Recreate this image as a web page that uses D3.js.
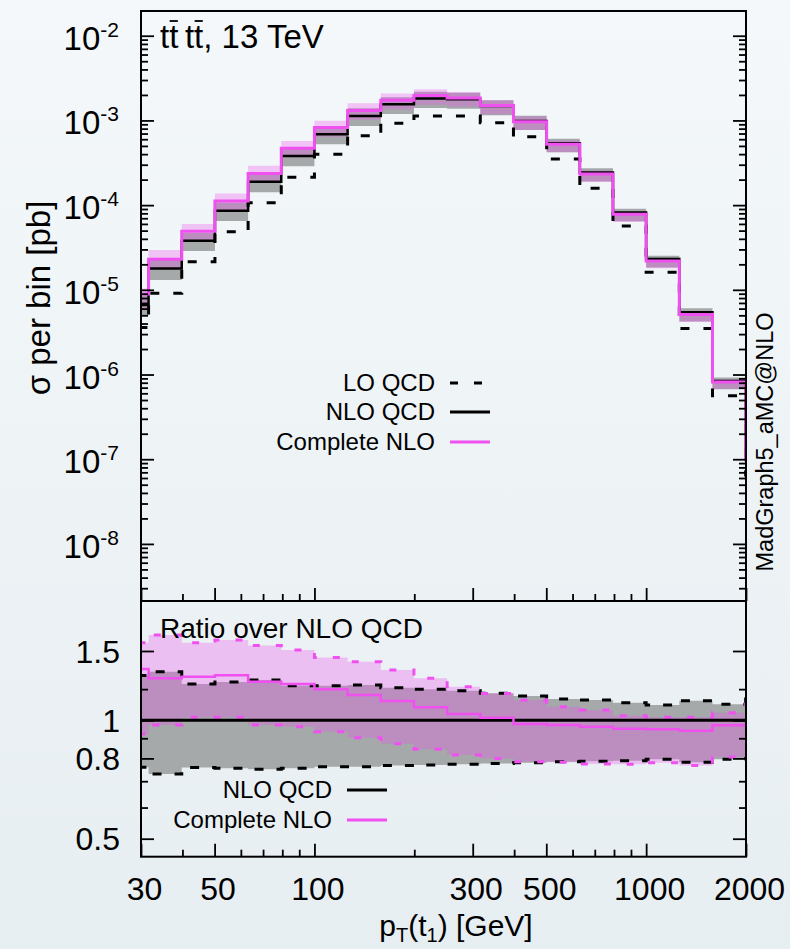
<!DOCTYPE html>
<html lang="en">
<head>
<meta charset="UTF-8">
<title>tttt pT(t1)</title>
<script src="https://cdn.jsdelivr.net/npm/d3@7"></script>
<style>
body {
	margin: 0;
	background: #eef3f5;
}
svg {
	display: block;
	font-family: "Liberation Sans", Arial, Helvetica, sans-serif;
}
</style>
</head>
<body>
<svg id="chart" width="790" height="949"></svg>
<script>

// bin edges [GeV], 10 bins per decade
const binEdges = [25.12, 31.62, 39.81, 50.12, 63.10, 79.43, 100, 125.9, 158.5, 199.5, 251.2,
	316.2, 398.1, 501.2, 631.0, 794.3, 1000, 1258.9, 1584.9, 1995.3, 2511.9];

// sigma per bin [pb]
const nloQCD = [6.6e-6, 1.79e-5, 3.8e-5, 8.6e-5, 1.89e-4, 3.8e-4, 6.86e-4, 1.13e-3, 1.55e-3, 1.82e-3,
	1.78e-3, 1.48e-3, 9.85e-4, 5.37e-4, 2.42e-4, 8.2e-5, 2.31e-5, 5.42e-6, 8.4e-7, 1.0e-7];
const loQCD = [3.6e-6, 9.1e-6, 2.15e-5, 4.85e-5, 1.07e-4, 2.13e-4, 3.98e-4, 6.6e-4, 9.25e-4, 1.13e-3,
	1.13e-3, 9.4e-4, 6.43e-4, 3.5e-4, 1.58e-4, 5.66e-5, 1.61e-5, 3.5e-6, 5.6e-7, 6.5e-8];

// ratios over NLO QCD
const nloUp = [1.30, 1.329, 1.237, 1.251, 1.266, 1.224, 1.224, 1.229, 1.21, 1.199,
	1.189, 1.171, 1.153, 1.133, 1.126, 1.108, 1.094, 1.121, 1.098, 1.18];
const nloDown = [0.76, 0.730, 0.758, 0.755, 0.751, 0.755, 0.762, 0.762, 0.767, 0.770,
	0.773, 0.777, 0.780, 0.785, 0.787, 0.789, 0.796, 0.782, 0.796, 0.80];
const cnloRatio = [1.35, 1.279, 1.291, 1.301, 1.253, 1.237, 1.199, 1.16, 1.119, 1.079,
	1.037, 1.015, 0.978, 0.973, 0.963, 0.952, 0.949, 0.941, 0.971, 0.98];
const cnloUp = [1.575, 1.647, 1.575, 1.60, 1.548, 1.509, 1.443, 1.409, 1.342, 1.279,
	1.217, 1.17, 1.126, 1.083, 1.062, 1.027, 1.018, 1.018, 1.045, 1.10];
const cnloDown = [0.923, 0.973, 1.018, 1.018, 0.973, 0.963, 0.935, 0.903, 0.871, 0.844,
	0.816, 0.80, 0.785, 0.782, 0.774, 0.773, 0.78, 0.767, 0.807, 0.80];

// ticks
const xTicks = [30, 50, 100, 300, 500, 1000, 2000];
const xMinor = [40, 60, 70, 80, 90, 200, 400, 600, 700, 800, 900];
const yExponents = [-2, -3, -4, -5, -6, -7, -8];
const ratioTicks = [0.5, 0.8, 1, 1.5];
const ratioMinor = [0.6, 0.7, 0.9, 1.2];

const magenta = "#f050f0";
const grayBand = "#a5a9aa";
const pinkBand = "rgba(240,80,240,0.31)";

const left = 141, right = 746, topY = 11, midY = 601, botY = 856.7;

const x = d3.scaleLog().domain([30, 2000]).range([left, right]);
const y = d3.scaleLog().domain([Math.pow(10, -8.674), Math.pow(10, -1.708)]).range([midY, topY]);
const yr = d3.scaleLog().domain([0.45, 2.01]).range([botY, midY]);

const svg = d3.select("#chart");
const defs = svg.append("defs");

const grad = defs.append("linearGradient").attr("id", "bg")
	.attr("x1", 0).attr("y1", 0).attr("x2", 0).attr("y2", 1);
grad.append("stop").attr("offset", "0%").attr("stop-color", "#f4f8fa");
grad.append("stop").attr("offset", "100%").attr("stop-color", "#e7eef1");

defs.append("clipPath").attr("id", "clipTop").append("rect")
	.attr("x", left).attr("y", topY).attr("width", right - left).attr("height", midY - topY);
defs.append("clipPath").attr("id", "clipBot").append("rect")
	.attr("x", left).attr("y", midY).attr("width", right - left).attr("height", botY - midY);

svg.append("rect").attr("width", 790).attr("height", 949).attr("fill", "url(#bg)");

// step helpers
function stepPoints(values) {
	const pts = values.map((v, i) => [binEdges[i], v]);
	pts.push([binEdges[values.length], values[values.length - 1]]);
	return pts;
}
function bandPoints(lows, highs) {
	const pts = lows.map((v, i) => ({e: binEdges[i], lo: v, hi: highs[i]}));
	pts.push({e: binEdges[lows.length], lo: lows[lows.length - 1], hi: highs[highs.length - 1]});
	return pts;
}

const scaled = (r) => r.map((v, i) => v * nloQCD[i]);
const ones = nloQCD.map(() => 1);

// ---------- upper panel ----------
const up = svg.append("g").attr("clip-path", "url(#clipTop)");

const areaTop = d3.area().curve(d3.curveStepAfter)
	.x(d => x(d.e)).y0(d => y(d.lo)).y1(d => y(d.hi));
const lineTop = d3.line().curve(d3.curveStepAfter)
	.x(d => x(d[0])).y(d => y(d[1]));

up.append("path").datum(bandPoints(scaled(nloDown), scaled(nloUp)))
	.attr("d", areaTop).attr("fill", grayBand);
up.append("path").datum(bandPoints(scaled(cnloDown), scaled(cnloUp)))
	.attr("d", areaTop).attr("fill", pinkBand);

up.append("path").datum(stepPoints(loQCD))
	.attr("d", lineTop).attr("fill", "none").attr("stroke", "#000")
	.attr("stroke-width", 3).attr("stroke-dasharray", "9,14");
up.append("path").datum(stepPoints(nloQCD))
	.attr("d", lineTop).attr("fill", "none").attr("stroke", "#000").attr("stroke-width", 2.5);
up.append("path").datum(stepPoints(scaled(cnloRatio)))
	.attr("d", lineTop).attr("fill", "none").attr("stroke", magenta).attr("stroke-width", 3);

// ---------- lower panel ----------
const lo = svg.append("g").attr("clip-path", "url(#clipBot)");

const areaBot = d3.area().curve(d3.curveStepAfter)
	.x(d => x(d.e)).y0(d => yr(d.lo)).y1(d => yr(d.hi));
const lineBot = d3.line().curve(d3.curveStepAfter)
	.x(d => x(d[0])).y(d => yr(d[1]));

lo.append("path").datum(bandPoints(nloDown, nloUp))
	.attr("d", areaBot).attr("fill", grayBand);
lo.append("path").datum(bandPoints(cnloDown, cnloUp))
	.attr("d", areaBot).attr("fill", pinkBand);

[nloUp, nloDown].forEach(arr => {
	lo.append("path").datum(stepPoints(arr))
		.attr("d", lineBot).attr("fill", "none").attr("stroke", "#000")
		.attr("stroke-width", 3).attr("stroke-dasharray", "9,13");
});
[cnloUp, cnloDown].forEach(arr => {
	lo.append("path").datum(stepPoints(arr))
		.attr("d", lineBot).attr("fill", "none").attr("stroke", magenta)
		.attr("stroke-width", 3).attr("stroke-dasharray", "7,16");
});
lo.append("path").datum(stepPoints(ones))
	.attr("d", lineBot).attr("fill", "none").attr("stroke", "#000").attr("stroke-width", 3);
lo.append("path").datum(stepPoints(cnloRatio))
	.attr("d", lineBot).attr("fill", "none").attr("stroke", magenta).attr("stroke-width", 2.5);

// ---------- axes (ticks pointing inward) ----------
function ticks(axis, g, size, values) {
	const a = g.append("g").call(axis.tickValues(values).tickSize(size).tickFormat(""));
	a.select(".domain").remove();
	a.selectAll("line").attr("stroke", "#000").attr("stroke-width", 1.8);
	return a;
}

const yMinor = y.ticks().filter(v => Math.abs(Math.log10(v) - Math.round(Math.log10(v))) > 1e-6);
const yMajor = yExponents.map(e => Math.pow(10, e));
const axes = svg.append("g");

ticks(d3.axisLeft(y), axes.append("g").attr("transform", `translate(${left},0)`), -13, yMajor);
ticks(d3.axisLeft(y), axes.append("g").attr("transform", `translate(${left},0)`), -7, yMinor);
ticks(d3.axisRight(y), axes.append("g").attr("transform", `translate(${right},0)`), -13, yMajor);
ticks(d3.axisRight(y), axes.append("g").attr("transform", `translate(${right},0)`), -7, yMinor);

ticks(d3.axisBottom(x), axes.append("g").attr("transform", `translate(0,${midY})`), -13, xTicks);
ticks(d3.axisBottom(x), axes.append("g").attr("transform", `translate(0,${midY})`), -7, xMinor);
ticks(d3.axisBottom(x), axes.append("g").attr("transform", `translate(0,${botY})`), -13, xTicks);
ticks(d3.axisBottom(x), axes.append("g").attr("transform", `translate(0,${botY})`), -7, xMinor);

ticks(d3.axisLeft(yr), axes.append("g").attr("transform", `translate(${left},0)`), -13, ratioTicks);
ticks(d3.axisLeft(yr), axes.append("g").attr("transform", `translate(${left},0)`), -7, ratioMinor);
ticks(d3.axisRight(yr), axes.append("g").attr("transform", `translate(${right},0)`), -13, ratioTicks);
ticks(d3.axisRight(yr), axes.append("g").attr("transform", `translate(${right},0)`), -7, ratioMinor);

// frames
[[topY, midY], [midY, botY]].forEach(([a, b]) => {
	svg.append("rect").attr("x", left).attr("y", a).attr("width", right - left).attr("height", b - a)
		.attr("fill", "none").attr("stroke", "#000").attr("stroke-width", 2);
});

// ---------- tick labels ----------
yExponents.forEach(e => {
	const t = svg.append("text").attr("x", 119).attr("y", y(Math.pow(10, e)) + 14)
		.attr("text-anchor", "end").attr("font-size", 33).text("10");
	t.append("tspan").attr("dy", -13).attr("font-size", 21).text(e);
});

ratioTicks.forEach(v => {
	svg.append("text").attr("x", 120).attr("y", yr(v) + 11.5)
		.attr("text-anchor", "end").attr("font-size", 32).text(v);
});

xTicks.forEach(v => {
	svg.append("text").attr("x", x(v) + 3.5).attr("y", 900)
		.attr("text-anchor", "middle").attr("font-size", 32).text(v);
});

// axis titles
const xl = svg.append("text").attr("x", 456).attr("y", 936)
	.attr("text-anchor", "middle").attr("font-size", 30);
xl.append("tspan").text("p");
xl.append("tspan").attr("font-size", 20).attr("dy", 6).text("T");
xl.append("tspan").attr("dy", -6).text("(t");
xl.append("tspan").attr("font-size", 20).attr("dy", 6).text("1");
xl.append("tspan").attr("dy", -6).text(") [GeV]");

svg.append("text").attr("transform", "translate(50,298) rotate(-90)")
	.attr("text-anchor", "middle").attr("font-size", 33).text("σ per bin [pb]");

svg.append("text").attr("transform", "translate(773,442) rotate(-90)")
	.attr("text-anchor", "middle").attr("font-size", 23.5).text("MadGraph5_aMC@NLO");

// process label with overbars on the anti-tops
const title = svg.append("text").attr("x", 160).attr("y", 48).attr("font-size", 33)
	.text("tt\u2009tt, 13 TeV");
[1, 4].forEach(i => {
	const b = title.node().getExtentOfChar(i);
	svg.append("line").attr("x1", b.x + 0.5).attr("x2", b.x + b.width - 0.5)
		.attr("y1", 21).attr("y2", 21).attr("stroke", "#000").attr("stroke-width", 1.8);
});

svg.append("text").attr("x", 160).attr("y", 638).attr("font-size", 28).text("Ratio over NLO QCD");

// ---------- legends ----------
function legend(rows, textX, lineX0, lineX1) {
	rows.forEach(r => {
		svg.append("text").attr("x", textX).attr("y", r.y + 8)
			.attr("text-anchor", "end").attr("font-size", 24).text(r.label);
		svg.append("line").attr("x1", lineX0).attr("x2", lineX1).attr("y1", r.y).attr("y2", r.y)
			.attr("stroke", r.color).attr("stroke-width", 3)
			.attr("stroke-dasharray", r.dash || null);
	});
}

legend([
	{label: "LO QCD", y: 383, color: "#000", dash: "8,16"},
	{label: "NLO QCD", y: 412, color: "#000"},
	{label: "Complete NLO", y: 442, color: magenta}
], 435, 450, 490);

legend([
	{label: "NLO QCD", y: 790, color: "#000"},
	{label: "Complete NLO", y: 820, color: magenta}
], 332, 347, 387);

</script>
</body>
</html>
